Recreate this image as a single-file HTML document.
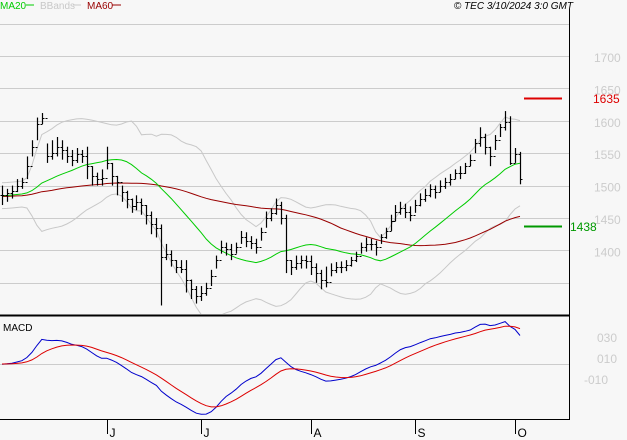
<!DOCTYPE html>
<html><head><meta charset="utf-8"><style>
body{margin:0;background:#f7f7f7;width:627px;height:440px;overflow:hidden;font-family:"Liberation Sans",sans-serif}
svg{display:block}
</style></head><body>
<svg id="c" width="627" height="440" xmlns="http://www.w3.org/2000/svg">
<rect width="627" height="440" fill="#f7f7f7"/>
<g font-size="10">
<text x="0" y="9" fill="#00cc00">MA20</text>
<line x1="26" y1="5" x2="34" y2="5" stroke="#00cc00"/>
<text x="40" y="9" fill="#c8c8c8">BBands</text>
<line x1="73" y1="5" x2="81" y2="5" stroke="#c8c8c8"/>
<text x="87" y="9" fill="#990000">MA60</text>
<line x1="112" y1="5" x2="121" y2="5" stroke="#990000"/>
</g>
<text x="573" y="9" font-size="10" font-style="italic" text-anchor="end" fill="#000">© TEC 3/10/2024 3:0 GMT</text>
<g id="grid"></g>
<g id="main" clip-path="url(#cp)"></g>
<g id="macd" clip-path="url(#cp2)"></g>
<defs><clipPath id="cp"><rect x="0" y="12" width="569" height="302"/></clipPath><clipPath id="cp2"><rect x="0" y="317" width="569" height="101"/></clipPath></defs>
<line x1="569.5" y1="9" x2="569.5" y2="420" stroke="#000"/>
<line x1="0" y1="315.5" x2="570" y2="315.5" stroke="#000" stroke-width="2"/>
<line x1="0" y1="419.5" x2="570" y2="419.5" stroke="#000"/>
<text x="3" y="331" font-size="10" fill="#000">MACD</text>
<g id="axes"></g>
</svg>
<script>
const history=[1470,1475,1468,1480,1485,1478,1472,1482,1490,1488,1480,1475,1470,1478,1485,1492,1488,1482,1476,1472,1468,1475,1482,1490,1495,1488,1480,1476,1482,1488,1494,1490,1484,1478,1474,1480,1486,1492,1498,1494,1488,1482,1478,1484,1490,1495,1490,1485,1480,1476,1482,1488,1492,1488,1484,1480,1478,1482,1486,1484];
const closes=[1485,1488,1492,1500,1505,1530,1560,1595,1605,1545,1550,1560,1555,1545,1540,1548,1545,1530,1515,1510,1512,1535,1515,1505,1490,1480,1468,1475,1470,1455,1440,1435,1390,1395,1385,1375,1372,1355,1340,1330,1335,1342,1360,1385,1405,1402,1395,1405,1420,1415,1412,1405,1428,1450,1458,1470,1450,1385,1375,1380,1385,1383,1375,1365,1355,1352,1370,1375,1375,1378,1385,1392,1405,1410,1410,1405,1420,1430,1445,1460,1465,1460,1455,1470,1480,1485,1495,1490,1500,1505,1510,1520,1520,1530,1540,1565,1575,1560,1545,1570,1590,1598,1535,1548,1510];
const highs=[1500,1495,1500,1510,1512,1545,1570,1605,1612,1565,1570,1575,1570,1560,1555,1558,1555,1560,1530,1520,1525,1560,1535,1515,1500,1492,1480,1485,1480,1470,1460,1450,1440,1410,1400,1385,1385,1385,1355,1345,1345,1350,1370,1392,1415,1412,1410,1412,1430,1428,1422,1418,1435,1460,1465,1480,1475,1455,1385,1392,1392,1392,1392,1380,1370,1375,1380,1382,1383,1385,1390,1398,1412,1420,1418,1415,1425,1435,1455,1470,1475,1472,1468,1478,1488,1495,1502,1500,1508,1512,1518,1525,1530,1535,1548,1572,1590,1580,1560,1578,1595,1615,1607,1558,1552];
const lows=[1470,1475,1480,1490,1495,1510,1545,1570,1595,1535,1540,1545,1540,1535,1530,1535,1535,1510,1500,1500,1500,1525,1500,1485,1475,1465,1458,1462,1455,1440,1425,1420,1315,1385,1375,1365,1365,1335,1325,1318,1322,1330,1345,1372,1395,1392,1385,1395,1410,1405,1402,1395,1415,1435,1445,1455,1440,1365,1362,1370,1372,1372,1362,1350,1340,1343,1360,1365,1365,1368,1375,1382,1395,1398,1400,1392,1410,1418,1430,1445,1455,1450,1445,1458,1468,1475,1482,1480,1490,1495,1500,1510,1510,1518,1530,1550,1560,1548,1530,1555,1575,1585,1532,1535,1502];
const priceTicks=[1400,1450,1500,1550,1600,1650,1700];
const gridPrices=[1350,1400,1450,1500,1550,1600,1650,1700,1750];
const macdLabels=["030","010","-010"];
const monthLabels=["J","J","A","S","O"];
const monthIdx=[21,40,62,83,103];
const markerHigh=1635, markerLow=1438;

const NS="http://www.w3.org/2000/svg";
const X0=2, STEP=518/104;
const px=i=>X0+i*STEP;
const py=v=>56+(1700-v)*0.648;
const MZ=364, MK=1.1;
const my=v=>MZ-v*MK;
function mk(tag,attrs,parent){const e=document.createElementNS(NS,tag);for(const k in attrs)e.setAttribute(k,attrs[k]);parent.appendChild(e);return e;}
const grid=document.getElementById('grid'),main=document.getElementById('main'),macd=document.getElementById('macd'),axes=document.getElementById('axes');
gridPrices.forEach(p=>{const l=mk('line',{x1:0,x2:569,y1:Math.round(py(p))+0.5,y2:Math.round(py(p))+0.5,stroke:'#cccccc'},grid);

});
priceTicks.forEach(p=>{const t=mk('text',{x:594,y:py(p)+6,'font-size':12,fill:'#cccccc'},axes);t.textContent=p;

});
const mg=mk('line',{x1:0,x2:569,y1:MZ+0.5,y2:MZ+0.5,stroke:'#cccccc'},grid);


macdLabels.forEach((s,k)=>{const t=mk('text',{x:s[0]=='-'?584:597,y:342+k*21,'font-size':12,fill:'#cccccc'},axes);t.textContent=s;

});
monthLabels.forEach((s,k)=>{const x=Math.round(px(monthIdx[k]))+0.5;
const l=mk('line',{x1:x,x2:x,y1:419,y2:434,stroke:'#000'},axes);


const t=mk('text',{x:x+2,y:437,'font-size':12,fill:'#000'},axes);t.textContent=s;

});
// indicators (computed over history + visible closes)
const all=history.concat(closes), H=history.length;
function sma(n){return closes.map((c,j)=>{const i=j+H;const s=all.slice(i-n+1,i+1);return s.reduce((a,b)=>a+b,0)/s.length;});}
const ma20=sma(20),ma60=sma(60);
const sd=closes.map((c,j)=>{const i=j+H;const s=all.slice(i-19,i+1);const m=ma20[j];return Math.sqrt(s.reduce((a,b)=>a+(b-m)*(b-m),0)/s.length);});
const bbU=ma20.map((m,i)=>m+2*Math.max(sd[i],10)),bbL=ma20.map((m,i)=>m-2*Math.max(sd[i],10));
function path(arr,f,stroke,name,parent){const d=arr.map((v,i)=>(i?'L':'M')+px(i).toFixed(1)+','+f(v).toFixed(1)).join('');
const p=mk('path',{d:d,fill:'none',stroke:stroke,'stroke-width':1},parent);

}
path(bbU,py,'#c8c8c8','bband-upper',main);
path(bbL,py,'#c8c8c8','bband-lower',main);
path(ma60,py,'#990000','ma60-line',main);
path(ma20,py,'#00cc00','ma20-line',main);
closes.forEach((c,i)=>{const x=Math.round(px(i))+0.5;const o=i?closes[i-1]:c;
const g=mk('g',{},main);


mk('line',{x1:x,x2:x,y1:py(highs[i]),y2:py(lows[i]),stroke:'#000','stroke-width':1.2},g);
mk('line',{x1:x-2,x2:x,y1:Math.round(py(o))+0.5,y2:Math.round(py(o))+0.5,stroke:'#000'},g);
mk('line',{x1:x,x2:x+2,y1:Math.round(py(c))+0.5,y2:Math.round(py(c))+0.5,stroke:'#000'},g);});
// markers
[[markerHigh,'#dd0000','1635','resistance'],[markerLow,'#009900','1438','support']].forEach(m=>{
const l=mk('line',{x1:524,x2:562,y1:Math.round(py(m[0]))+0.5,y2:Math.round(py(m[0]))+0.5,stroke:m[1],'stroke-width':2},axes);


const t=mk('text',{x:m[0]>1500?593:570,y:py(m[0])+5,'font-size':12,fill:m[1]},axes);t.textContent=m[2];

});
// MACD
function ema(a,n){const k=2/(n+1);let e=a[0];return a.map(v=>(e=v*k+e*(1-k)));}
const e12=ema(all,12),e26=ema(all,26);
const macdAll=e12.map((v,i)=>v-e26[i]);
const sigAll=ema(macdAll,9);
const macdLine=macdAll.slice(H), sig=sigAll.slice(H);
path(macdLine,my,'#0000cc','macd-line',macd);
path(sig,my,'#dd0000','signal-line',macd);
</script>
</body></html>
